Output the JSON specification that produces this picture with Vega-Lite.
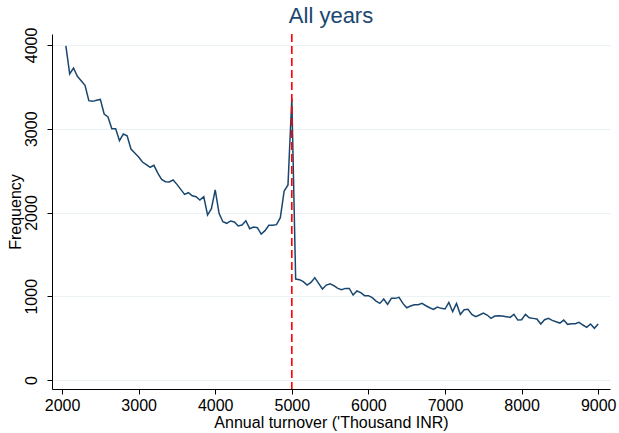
{
  "$schema": "https://vega.github.io/schema/vega-lite/v6.json",
  "width": 558,
  "height": 355,
  "autosize": {"type": "none"},
  "padding": {"left": 52, "top": 34, "right": 9, "bottom": 44},
  "background": "white",
  "title": {"text": "All years", "fontSize": 22, "font": "Liberation Sans", "fontWeight": "normal", "color": "#1a476f", "anchor": "middle", "offset": -1},
  "config": {
    "view": {"stroke": null},
    "font": "Liberation Sans",
    "axis": {"labelFont": "Liberation Sans", "titleFont": "Liberation Sans", "labelFontSize": 16, "titleFontSize": 16, "labelColor": "black", "titleColor": "black", "titleFontWeight": "normal", "domainColor": "black", "tickColor": "black", "tickSize": 5, "domainWidth": 1, "tickWidth": 1, "gridColor": "#eaf2f3", "gridWidth": 1}
  },
  "data": {"values": [
    {"turnover": 2050, "freq": 3990}, {"turnover": 2100, "freq": 3654}, {"turnover": 2150, "freq": 3725}, {"turnover": 2200, "freq": 3626},
    {"turnover": 2250, "freq": 3574}, {"turnover": 2300, "freq": 3518}, {"turnover": 2350, "freq": 3335}, {"turnover": 2400, "freq": 3327},
    {"turnover": 2450, "freq": 3340}, {"turnover": 2500, "freq": 3350}, {"turnover": 2550, "freq": 3176}, {"turnover": 2600, "freq": 3140},
    {"turnover": 2650, "freq": 3000}, {"turnover": 2700, "freq": 3000}, {"turnover": 2750, "freq": 2857}, {"turnover": 2800, "freq": 2937},
    {"turnover": 2850, "freq": 2917}, {"turnover": 2900, "freq": 2758}, {"turnover": 2950, "freq": 2710}, {"turnover": 3000, "freq": 2663},
    {"turnover": 3050, "freq": 2603}, {"turnover": 3100, "freq": 2571}, {"turnover": 3150, "freq": 2540}, {"turnover": 3200, "freq": 2563},
    {"turnover": 3250, "freq": 2470}, {"turnover": 3300, "freq": 2396}, {"turnover": 3350, "freq": 2368}, {"turnover": 3400, "freq": 2364},
    {"turnover": 3450, "freq": 2388}, {"turnover": 3500, "freq": 2336}, {"turnover": 3550, "freq": 2276}, {"turnover": 3600, "freq": 2216},
    {"turnover": 3650, "freq": 2236}, {"turnover": 3700, "freq": 2200}, {"turnover": 3750, "freq": 2189}, {"turnover": 3800, "freq": 2149},
    {"turnover": 3850, "freq": 2189}, {"turnover": 3900, "freq": 1970}, {"turnover": 3950, "freq": 2045}, {"turnover": 4000, "freq": 2269},
    {"turnover": 4050, "freq": 1990}, {"turnover": 4100, "freq": 1890}, {"turnover": 4150, "freq": 1871}, {"turnover": 4200, "freq": 1899},
    {"turnover": 4250, "freq": 1887}, {"turnover": 4300, "freq": 1839}, {"turnover": 4350, "freq": 1851}, {"turnover": 4400, "freq": 1902},
    {"turnover": 4450, "freq": 1807}, {"turnover": 4500, "freq": 1827}, {"turnover": 4550, "freq": 1819}, {"turnover": 4600, "freq": 1743},
    {"turnover": 4650, "freq": 1783}, {"turnover": 4700, "freq": 1847}, {"turnover": 4750, "freq": 1847}, {"turnover": 4800, "freq": 1855},
    {"turnover": 4850, "freq": 1938}, {"turnover": 4900, "freq": 2257}, {"turnover": 4950, "freq": 2328}, {"turnover": 5000, "freq": 3360},
    {"turnover": 5050, "freq": 1206}, {"turnover": 5100, "freq": 1198}, {"turnover": 5150, "freq": 1174}, {"turnover": 5200, "freq": 1134},
    {"turnover": 5250, "freq": 1166}, {"turnover": 5300, "freq": 1222}, {"turnover": 5350, "freq": 1154}, {"turnover": 5400, "freq": 1087},
    {"turnover": 5450, "freq": 1134}, {"turnover": 5500, "freq": 1150}, {"turnover": 5550, "freq": 1126}, {"turnover": 5600, "freq": 1094},
    {"turnover": 5650, "freq": 1079}, {"turnover": 5700, "freq": 1094}, {"turnover": 5750, "freq": 1094}, {"turnover": 5800, "freq": 1015},
    {"turnover": 5850, "freq": 1063}, {"turnover": 5900, "freq": 1043}, {"turnover": 5950, "freq": 1007}, {"turnover": 6000, "freq": 1007},
    {"turnover": 6050, "freq": 983}, {"turnover": 6100, "freq": 943}, {"turnover": 6150, "freq": 915}, {"turnover": 6200, "freq": 967},
    {"turnover": 6250, "freq": 903}, {"turnover": 6300, "freq": 975}, {"turnover": 6350, "freq": 975}, {"turnover": 6400, "freq": 987},
    {"turnover": 6450, "freq": 915}, {"turnover": 6500, "freq": 863}, {"turnover": 6550, "freq": 883}, {"turnover": 6600, "freq": 899},
    {"turnover": 6650, "freq": 899}, {"turnover": 6700, "freq": 915}, {"turnover": 6750, "freq": 887}, {"turnover": 6800, "freq": 863},
    {"turnover": 6850, "freq": 844}, {"turnover": 6900, "freq": 872}, {"turnover": 6950, "freq": 856}, {"turnover": 7000, "freq": 848},
    {"turnover": 7050, "freq": 927}, {"turnover": 7100, "freq": 816}, {"turnover": 7150, "freq": 915}, {"turnover": 7200, "freq": 784},
    {"turnover": 7250, "freq": 840}, {"turnover": 7300, "freq": 844}, {"turnover": 7350, "freq": 784}, {"turnover": 7400, "freq": 756},
    {"turnover": 7450, "freq": 776}, {"turnover": 7500, "freq": 800}, {"turnover": 7550, "freq": 776}, {"turnover": 7600, "freq": 736},
    {"turnover": 7650, "freq": 764}, {"turnover": 7700, "freq": 768}, {"turnover": 7750, "freq": 764}, {"turnover": 7800, "freq": 756},
    {"turnover": 7850, "freq": 748}, {"turnover": 7900, "freq": 784}, {"turnover": 7950, "freq": 716}, {"turnover": 8000, "freq": 720},
    {"turnover": 8050, "freq": 784}, {"turnover": 8100, "freq": 744}, {"turnover": 8150, "freq": 736}, {"turnover": 8200, "freq": 728},
    {"turnover": 8250, "freq": 669}, {"turnover": 8300, "freq": 720}, {"turnover": 8350, "freq": 736}, {"turnover": 8400, "freq": 712},
    {"turnover": 8450, "freq": 696}, {"turnover": 8500, "freq": 680}, {"turnover": 8550, "freq": 716}, {"turnover": 8600, "freq": 665},
    {"turnover": 8650, "freq": 673}, {"turnover": 8700, "freq": 673}, {"turnover": 8750, "freq": 689}, {"turnover": 8800, "freq": 657},
    {"turnover": 8850, "freq": 629}, {"turnover": 8900, "freq": 669}, {"turnover": 8950, "freq": 617}, {"turnover": 9000, "freq": 669}
  ]},
  "layer": [
    {
      "mark": {"type": "line", "color": "#1a476f", "strokeWidth": 1.5},
      "encoding": {
        "x": {"field": "turnover", "type": "quantitative", "scale": {"domain": [1869, 9154], "nice": false, "zero": false},
          "axis": {"values": [2000, 3000, 4000, 5000, 6000, 7000, 8000, 9000], "grid": false, "title": "Annual turnover ('Thousand INR)", "labelPadding": 3, "titlePadding": 1, "format": "d"}},
        "y": {"field": "freq", "type": "quantitative", "scale": {"domain": [-107, 4131], "nice": false, "zero": false},
          "axis": {"values": [0, 1000, 2000, 3000, 4000], "grid": true, "title": "Frequency", "labelAngle": -90, "labelAlign": "center", "labelBaseline": "bottom", "labelPadding": 8, "titlePadding": 0, "format": "d"}}
      }
    },
    {
      "data": {"values": [{"cutoff": 5000}]},
      "mark": {"type": "rule", "color": "#ff0000", "strokeWidth": 1.6, "strokeDash": [8, 4]},
      "encoding": {"x": {"field": "cutoff", "type": "quantitative"}}
    }
  ]
}
